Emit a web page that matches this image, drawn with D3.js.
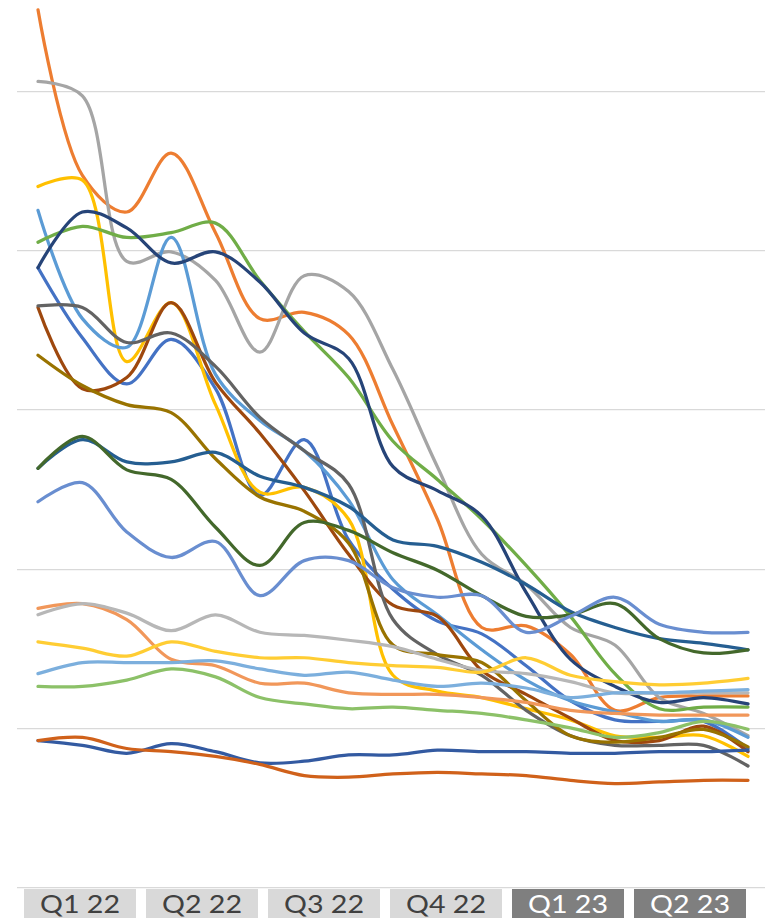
<!DOCTYPE html>
<html>
<head>
<meta charset="utf-8">
<script src="https://cdn.jsdelivr.net/npm/d3@7/dist/d3.min.js"></script>
<style>
  html, body { margin: 0; padding: 0; background: #ffffff; }
  svg { display: block; }
</style>
</head>
<body>
<svg id="chart" width="775" height="920"></svg>
<script>
// Monthly readings, 17 points per series (index 0 … 16)
const sBlue        = [38.9, 34.5, 31.6, 34.4, 31.3, 24.6, 28.1, 21.8, 18.7, 16.7, 15.9, 13.9, 11.7, 10.5, 10.4, 10.4, 8.7];
const sOrange      = [55.1, 44.7, 42.4, 46.1, 41.1, 35.7, 36.1, 34.7, 29.0, 23.1, 16.3, 16.4, 14.6, 11.1, 11.9, 12.0, 12.0];
const sGray        = [50.6, 49.7, 39.3, 39.9, 38.1, 33.6, 38.4, 37.4, 32.5, 26.4, 20.9, 19.0, 16.3, 15.2, 11.9, 10.9, 9.5];
const sGold        = [44.0, 44.4, 33.0, 36.7, 30.3, 24.8, 25.1, 23.1, 13.3, 12.3, 11.9, 11.2, 10.5, 9.5, 9.4, 9.5, 8.2];
const sLightBlue   = [42.5, 35.7, 33.9, 40.8, 32.2, 29.3, 27.4, 24.3, 19.3, 17.1, 14.9, 13.0, 11.7, 11.0, 10.4, 10.5, 9.4];
const sGreen       = [40.5, 41.5, 40.8, 41.1, 41.7, 38.1, 34.9, 32.0, 28.0, 25.6, 23.1, 20.2, 17.0, 13.4, 11.2, 11.3, 11.3];
const sNavy        = [38.9, 42.4, 41.4, 39.2, 39.9, 38.0, 34.8, 33.2, 26.4, 24.9, 23.3, 18.5, 14.3, 12.6, 11.6, 11.9, 11.5];
const sBrown       = [36.4, 31.3, 32.0, 36.7, 31.7, 28.5, 24.9, 20.9, 17.7, 17.0, 13.6, 12.1, 10.6, 9.2, 9.2, 10.1, 8.5];
const sDarkGray    = [36.5, 36.4, 34.2, 34.8, 32.7, 29.5, 27.4, 25.3, 16.8, 14.6, 13.3, 11.1, 9.5, 8.9, 8.9, 8.9, 7.6];
const sOlive       = [33.4, 31.5, 30.3, 29.8, 26.9, 24.5, 23.6, 21.6, 15.2, 14.6, 14.1, 11.7, 9.5, 9.1, 9.4, 9.9, 8.8];
const sDarkBlue    = [26.3, 28.1, 26.7, 26.7, 27.3, 25.8, 25.1, 23.9, 21.8, 21.4, 20.4, 19.0, 17.3, 16.3, 15.6, 15.3, 14.9];
const sDarkGreen   = [26.3, 28.3, 26.2, 25.6, 22.6, 20.2, 22.9, 22.4, 21.0, 19.9, 18.3, 17.0, 17.1, 17.8, 15.6, 14.7, 14.9];
const sPeriwinkle  = [24.2, 25.4, 22.3, 20.7, 21.7, 18.3, 20.5, 20.5, 18.8, 18.2, 18.3, 16.0, 17.0, 18.2, 16.5, 16.0, 16.0];
const sLightOrange = [17.5, 17.8, 16.8, 14.3, 13.9, 12.8, 12.8, 12.2, 12.1, 12.1, 11.9, 11.6, 11.1, 10.9, 10.8, 10.8, 10.8];
const sLightGray   = [17.1, 17.8, 17.2, 16.1, 17.1, 16.0, 15.8, 15.5, 15.1, 14.3, 13.6, 13.4, 12.9, 12.2, 12.2, 12.2, 12.2];
const sLightYellow = [15.4, 15.0, 14.5, 15.4, 14.8, 14.4, 14.4, 14.1, 13.9, 13.8, 13.5, 14.4, 13.3, 12.9, 12.7, 12.8, 13.1];
const sSkyBlue     = [13.4, 14.1, 14.1, 14.1, 14.2, 13.7, 13.3, 13.5, 13.0, 12.6, 12.8, 12.5, 11.9, 12.2, 12.2, 12.3, 12.4];
const sLightGreen  = [12.6, 12.6, 13.0, 13.7, 13.2, 11.9, 11.5, 11.2, 11.3, 11.1, 10.9, 10.5, 10.0, 9.4, 9.7, 10.4, 9.9];
const sSteelBlue   = [9.2, 8.9, 8.4, 9.0, 8.5, 7.8, 7.9, 8.3, 8.3, 8.6, 8.5, 8.5, 8.4, 8.4, 8.5, 8.5, 8.6];
const sRust        = [9.2, 9.4, 8.7, 8.5, 8.2, 7.7, 7.0, 6.9, 7.1, 7.2, 7.1, 7.0, 6.7, 6.5, 6.6, 6.7, 6.7];

// Series in drawing order with their colours
const seriesList = [
  sBlue, sOrange, sGray, sGold, sLightBlue, sGreen,
  sNavy, sBrown, sDarkGray, sOlive, sDarkBlue, sDarkGreen,
  sPeriwinkle, sLightOrange, sLightGray, sLightYellow, sSkyBlue, sLightGreen,
  sSteelBlue, sRust
];
const seriesColors = [
  "#4472C4", "#ED7D31", "#A5A5A5", "#FFC000", "#5B9BD5", "#70AD47",
  "#264478", "#9E480E", "#636363", "#997300", "#255E91", "#43682B",
  "#698ED0", "#F1975A", "#B7B7B7", "#FFCD33", "#7CAFDD", "#8CC168",
  "#335AA1", "#D0611A"
];

// Gridline values and the quarter labels under the plot
const gridTicks = [0, 10, 20, 30, 40, 50];
const quarterLabels = ["Q1 22", "Q2 22", "Q3 22", "Q4 22", "Q1 23", "Q2 23"];
const quarterIsForecast = [false, false, false, false, true, true];

const svg = d3.select("#chart");

const plot = { left: 17, right: 765, top: 91, bottom: 887 };
const pointCount = sBlue.length;

const x = d3.scalePoint()
  .domain(d3.range(pointCount))
  .range([38, 748]);

const y = d3.scaleLinear()
  .domain([0, 50])
  .range([plot.bottom, plot.top]);

// Horizontal gridlines
svg.append("g")
  .attr("class", "grid")
  .selectAll("line")
  .data(gridTicks)
  .join("line")
  .attr("x1", plot.left)
  .attr("x2", plot.right)
  .attr("y1", d => Math.round(y(d)) + 0.5)
  .attr("y2", d => Math.round(y(d)) + 0.5)
  .attr("stroke", "#D9D9D9")
  .attr("stroke-width", 1.25);

// Smoothed lines
const line = d3.line()
  .x((d, i) => x(i))
  .y(d => y(d))
  .curve(d3.curveCatmullRom.alpha(0.5));

svg.append("g")
  .attr("class", "series")
  .selectAll("path")
  .data(seriesList)
  .join("path")
  .attr("d", d => line(d))
  .attr("fill", "none")
  .attr("stroke", (d, i) => seriesColors[i])
  .attr("stroke-width", 3.25)
  .attr("stroke-linejoin", "round")
  .attr("stroke-linecap", "round");

// Quarter label boxes
const qx = d3.scaleBand()
  .domain(quarterLabels)
  .range([24, 746])
  .paddingInner(0.082)
  .paddingOuter(0);

const qg = svg.append("g")
  .attr("class", "quarters")
  .selectAll("g")
  .data(quarterLabels)
  .join("g")
  .attr("transform", d => `translate(${qx(d)},889)`);

qg.append("rect")
  .attr("width", qx.bandwidth())
  .attr("height", 29)
  .attr("fill", (d, i) => quarterIsForecast[i] ? "#7F7F7F" : "#D9D9D9");

qg.append("text")
  .attr("x", qx.bandwidth() / 2)
  .attr("y", 24)
  .attr("text-anchor", "middle")
  .attr("font-family", "Lato, 'Open Sans', sans-serif")
  .attr("font-size", 25)
  .attr("textLength", 80)
  .attr("lengthAdjust", "spacingAndGlyphs")
  .attr("fill", (d, i) => quarterIsForecast[i] ? "#FFFFFF" : "#404040")
  .text(d => d);
</script>
</body>
</html>
